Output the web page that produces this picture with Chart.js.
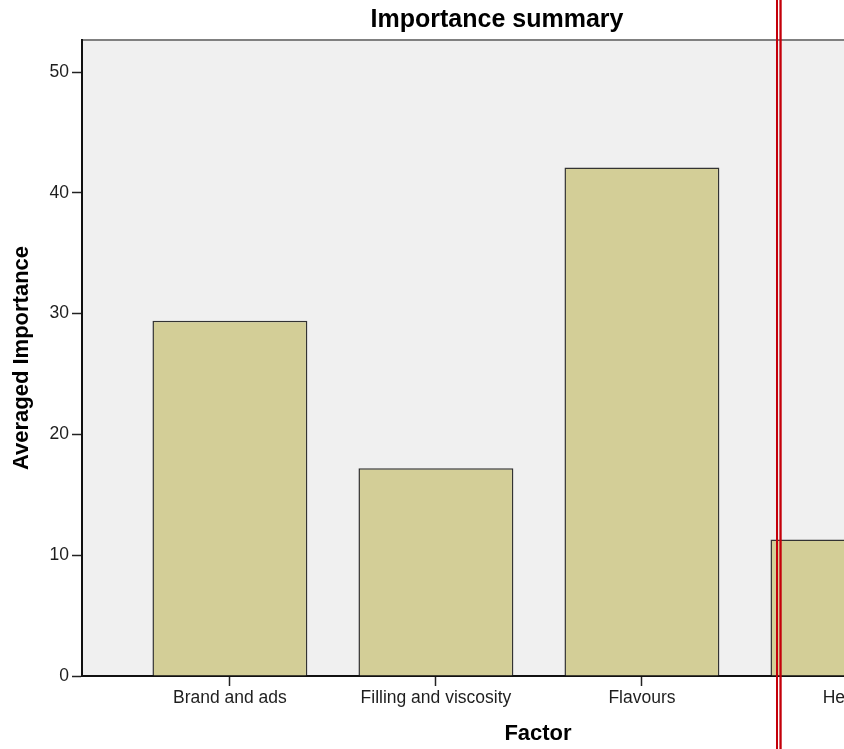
<!DOCTYPE html>
<html>
<head>
<meta charset="utf-8">
<title>Importance summary</title>
<script src="https://cdn.jsdelivr.net/npm/chart.js@4/dist/chart.umd.min.js"></script>
<style>
  html, body { margin: 0; padding: 0; background: #ffffff; overflow: hidden; }
  #wrap { width: 844px; height: 749px; overflow: hidden; position: relative; }
  canvas { display: block; }
</style>
</head>
<body>
<div id="wrap"><canvas id="chart" width="994" height="749"></canvas></div>
<script>
// Factors and their averaged importance (percent, totals 100)
const factors = ['Brand and ads', 'Filling and viscosity', 'Flavours', 'Health'];
const importance = [29.4, 17.2, 42.1, 11.3];
const yTicks = [0, 10, 20, 30, 40, 50];

const FONT = '"Liberation Sans", Arial, Helvetica, sans-serif';

// Light grey plot panel with a grey frame on top/right
const panel = {
  id: 'panel',
  beforeDraw(chart) {
    const { ctx, chartArea: a } = chart;
    ctx.save();
    ctx.fillStyle = '#f0f0f0';
    ctx.fillRect(a.left, a.top, a.right - a.left, a.bottom - a.top);
    ctx.strokeStyle = '#808080';
    ctx.lineWidth = 2;
    ctx.beginPath();
    ctx.moveTo(a.left, a.top);
    ctx.lineTo(a.right, a.top);
    ctx.lineTo(a.right, a.bottom);
    ctx.stroke();
    ctx.restore();
  }
};

// Double red fold marker across the page
const foldMarker = {
  id: 'foldMarker',
  afterDraw(chart) {
    const { ctx, height } = chart;
    ctx.save();
    ctx.fillStyle = '#c4000b';
    ctx.fillRect(776, 0, 2, height);
    ctx.fillRect(779.4, 0, 2.3, height);
    ctx.restore();
  }
};

new Chart(document.getElementById('chart'), {
  type: 'bar',
  data: {
    datasets: [{
      data: factors.map((f, i) => ({ x: i, y: importance[i] })),
      backgroundColor: '#d3ce97',
      borderColor: '#333333',
      borderWidth: 1.5,
      borderSkipped: 'start',
      categoryPercentage: 1,
      barPercentage: 0.752
    }]
  },
  options: {
    responsive: false,
    animation: false,
    devicePixelRatio: 1,
    layout: { padding: 0 },
    plugins: {
      legend: { display: false },
      tooltip: { enabled: false },
      title: {
        display: true,
        text: 'Importance summary',
        color: '#000',
        font: { family: FONT, size: 25, weight: 'bold', lineHeight: 1.2 },
        padding: { top: 5, bottom: 5 }
      }
    },
    scales: {
      x: {
        type: 'linear',
        offset: false,
        min: -0.718,
        max: 3.709,
        afterFit(scale) { scale.height = 73; },
        afterBuildTicks(scale) {
          scale.ticks = factors.map((f, i) => ({ value: i }));
        },
        ticks: {
          autoSkip: false,
          maxRotation: 0,
          padding: 2,
          color: '#1e1e1e',
          font: { family: FONT, size: 17.5 },
          callback: (v) => factors[v] ?? ''
        },
        grid: {
          offset: false,
          drawOnChartArea: false,
          drawTicks: true,
          tickLength: 10,
          tickColor: '#222',
          tickWidth: 1.5
        },
        border: { display: true, color: '#111', width: 2 },
        title: {
          display: true,
          text: 'Factor',
          color: '#000',
          font: { family: FONT, size: 22, weight: 'bold', lineHeight: 1.2 },
          padding: { top: 0, bottom: 1.5 }
        }
      },
      y: {
        min: 0,
        max: 52.65,
        afterFit(scale) { scale.width = 82; },
        afterBuildTicks(scale) {
          scale.ticks = yTicks.map(v => ({ value: v }));
        },
        ticks: {
          padding: 3,
          color: '#1e1e1e',
          font: { family: FONT, size: 17.5 }
        },
        grid: {
          drawOnChartArea: false,
          drawTicks: true,
          tickLength: 10,
          tickColor: '#222',
          tickWidth: 1.5
        },
        border: { display: true, color: '#111', width: 2 },
        title: {
          display: true,
          text: 'Averaged Importance',
          color: '#000',
          font: { family: FONT, size: 22, weight: 'bold', lineHeight: 1.2 },
          padding: { top: 9, bottom: 0 }
        }
      }
    }
  },
  plugins: [panel, foldMarker]
});
</script>
</body>
</html>
